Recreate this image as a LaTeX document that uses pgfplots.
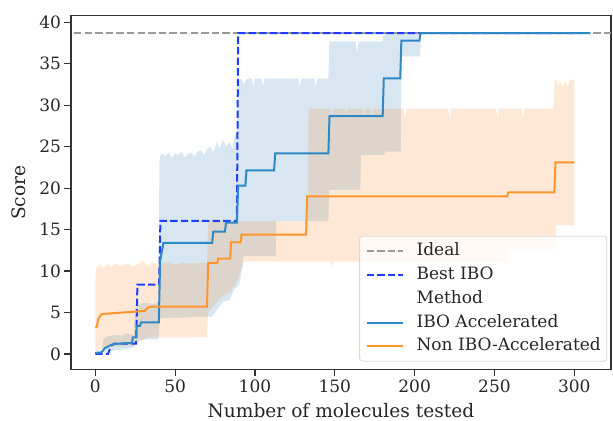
\documentclass[border=0pt]{standalone}
\usepackage{fontspec}
\setmainfont{DejaVu Serif}
\usepackage{pgfplots}
\pgfplotsset{compat=1.18}
\definecolor{tabblue}{HTML}{1F77B4}
\definecolor{lineblue}{HTML}{2E88C4}
\definecolor{taborange}{HTML}{FF7F0E}
\definecolor{lineorange}{HTML}{FF952C}
\definecolor{bestblue}{HTML}{1F3CFF}
\definecolor{idealgray}{HTML}{9A9A9A}
\definecolor{spine}{HTML}{333333}
\definecolor{legedge}{HTML}{D8D8D8}
\begin{document}
\begin{tikzpicture}
\begin{axis}[name=ax, scale only axis, width=540pt, height=354pt,
  xmin=-15.2, xmax=323, ymin=-1.9, ymax=40.8,
  xtick={0,50,...,300}, ytick={0,5,...,40},
  tick align=outside, xtick pos=left, ytick pos=left,
  major tick length=6.5pt,
  every tick/.style={spine, line width=1.2pt},
  axis line style={spine, line width=1.4pt},
  tick label style={font=\fontsize{17}{20}\selectfont, color=black!85},
  /pgf/number format/assume math mode=true,
  xlabel={Number of molecules tested}, ylabel={Score},
  label style={font=\fontsize{18.6}{22}\selectfont, color=black!85, inner sep=0pt},
  xlabel style={at={(axis description cs:0.5,0)}, anchor=base, yshift=-48pt},
  ylabel style={at={(axis description cs:-0.0963,0.5)}, anchor=center},
  legend style={at={(0.993,0.023)}, anchor=south east, draw=legedge, line width=0.8pt,
    rounded corners=3pt, fill=white, fill opacity=0.8, text opacity=1,
    font=\fontsize{17}{20}\selectfont, text=black!85,
    inner xsep=6pt, inner ysep=6.2pt, row sep=6.9pt, column sep=0pt,
    nodes={inner sep=0pt, text height=13pt, text depth=4pt}},
  legend cell align=left,
  legend image code/.code={\draw[#1] (0pt,0pt) -- (36pt,0pt);},
  /tikz/every odd column/.append style={column sep=13pt},
]
% blue band
\addplot[draw=none, fill=tabblue, fill opacity=0.18, forget plot] coordinates {
(0,0.3)(4,0.4)(5,1.8)(8,2.1)(12,2.3)(16,2.2)(20,2.5)(24,2.3)(25,5.5)(27,6.0)(32,6.2)(36,6.0)(39.5,6.2)(40.2,23.2)(41,24.2)(44,23.9)(46,24.3)(48,23.6)(50,24.2)(52,24.0)(54,24.4)(56,23.7)(58,24.1)(60,24.3)(62,23.8)(64,24.4)(66,24.6)(68,24.0)(70,24.7)(72,25.0)(74,24.3)(76,25.5)(78,24.8)(80,25.8)(82,25.0)(84,25.6)(86,24.7)(87,26.2)(88.8,26.7)(89.5,32.9)(91,33.2)(93,32.5)(95,33.2)(98,33.2)(99,32.3)(100,33.2)(104,33.2)(105,32.3)(106,33.2)(127,33.2)(128,32.2)(129,33.2)(137,33.2)(138,32.2)(139,33.2)(146,33.2)(146.6,37.7)(163,37.7)(164,36.3)(165,37.7)(180,37.7)(180.6,38.7)(310,38.7)
(310,38.7)(204,38.7)(203.5,35.9)(191.8,35.9)(191.4,24.4)(181.5,24.4)(181,24.0)(166.5,24.0)(166,19.8)(146.6,19.8)(146,16.0)(113.5,16.0)(113,11.8)(93,11.8)(92,10.2)(90,8.3)(87,7.8)(84,6.5)(80,6.3)(75,5.0)(73,4.5)(40.5,4.3)(39.5,1.8)(28,1.7)(26,1.5)(25,1.0)(24,0.8)(20,0.6)(10,0.4)(5,0.2)(0,0)
};
% orange band
\addplot[draw=none, fill=taborange, fill opacity=0.17, forget plot] coordinates {
(0,9.5)(1,10.6)(3,10.8)(5,10.4)(8,10.9)(10,10.5)(13,10.9)(16,10.6)(20,10.9)(24,10.5)(28,11.0)(30,11.3)(32,10.7)(36,11.0)(40,10.8)(45,11.0)(50,10.8)(55,11.0)(60,10.9)(65,11.0)(70,11.0)(70.6,16.0)(133,16.0)(133.6,29.6)(147,29.6)(148,28.6)(149,29.6)(156,29.6)(157,28.8)(158,29.6)(167,29.6)(168,28.6)(169,29.6)(172,29.6)(173,28.7)(174,29.6)(193,29.6)(194,28.4)(195,29.6)(221,29.6)(222,28.4)(223,29.6)(251,29.6)(252,28.4)(253,29.6)(267,29.6)(268,28.5)(269,29.6)(287,29.6)(287.6,33.0)(289,33.1)(290,32.1)(291,33.1)(293,32.1)(294,33.1)(296,32.2)(297,33.1)(300,33.1)
(300,15.5)(288.6,15.5)(288,12.6)(258.6,12.6)(258,11.15)(149,11.15)(148,10.4)(147,11.15)(93,11.15)(91,10.0)(88,8.5)(85,7.5)(80,7.0)(75,6.0)(70.6,5.0)(70,2.0)(32,2.0)(31,1.8)(26,1.4)(25,1.0)(5,0.8)(0,0.3)
};
% ideal
\addplot[idealgray, line width=1.8pt, dash pattern=on 7.4pt off 3.2pt] coordinates {(-20,38.7) (330,38.7)};
\addlegendentry{Ideal}
% best IBO
\addplot[bestblue, line width=2pt, dash pattern=on 7.4pt off 3.2pt] coordinates {
(0,0)(8,0)(10,1.0)(12,1.25)(25.6,1.25)(26.4,8.35)(40,8.35)(40.8,16.05)(88.7,16.05)(89.5,38.7)(304,38.7)};
\addlegendentry{Best IBO}
\addlegendimage{empty legend}
\addlegendentry{Method}
% IBO accelerated mean
\addplot[lineblue, line width=2pt] coordinates {
(0,0.1)(4,0.2)(6,0.7)(9,1.0)(12,1.2)(20,1.3)(23,1.3)(23.5,2.0)(25.5,2.0)(26,3.4)(28,3.4)(28.7,3.8)(39.8,3.8)(40.6,11.2)(42.7,13.4)(73.2,13.4)(73.9,14.75)(81.2,14.75)(81.9,15.85)(88.7,15.85)(89.5,20.3)(94,20.3)(94.7,22.15)(112,22.15)(112.7,24.2)(146,24.2)(146.7,28.7)(180,28.7)(180.7,33.25)(191,33.25)(191.7,37.8)(203,37.8)(203.7,38.7)(310,38.7)};
\addlegendentry{IBO Accelerated}
% non IBO accelerated mean
\addplot[lineorange, line width=2pt] coordinates {
(0,3.2)(1,3.3)(2,4.3)(4,4.8)(10,4.9)(25,5.1)(31,5.2)(33,5.6)(35,5.7)(70,5.7)(70.7,11.0)(76.5,11.0)(77,11.5)(84.5,11.5)(85,13.45)(91,13.45)(91.6,14.4)(132,14.4)(132.7,19.0)(258,19.0)(258.7,19.5)(287.5,19.5)(288.2,23.1)(300,23.1)};
\addlegendentry{Non IBO-Accelerated\hspace{8pt}}
\end{axis}
\path ([xshift=-71pt,yshift=-51pt]ax.south west) rectangle ([xshift=2pt,yshift=15.7pt]ax.north east);
\end{tikzpicture}
\end{document}
